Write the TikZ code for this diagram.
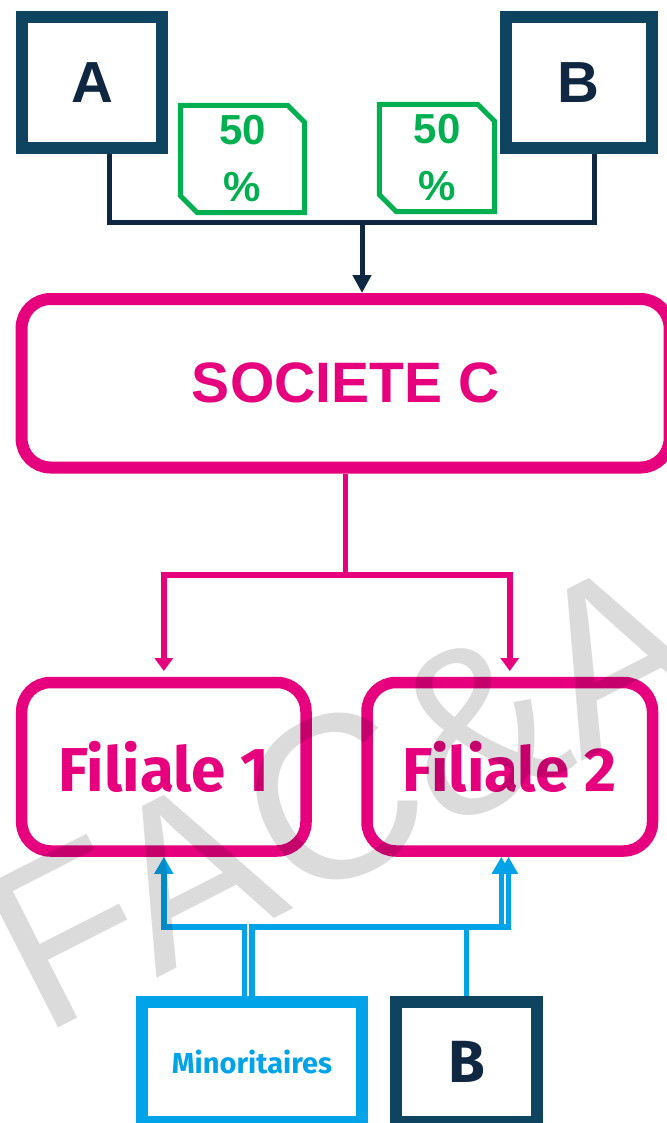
\documentclass[tikz,border=0pt]{standalone}
\usepackage{fontspec}
\setmainfont{Liberation Sans}
\newfontfamily\firasans{Fira Sans}
\usetikzlibrary{arrows.meta}
\definecolor{boxteal}{HTML}{0E4460}
\definecolor{linknavy}{HTML}{0F2741}
\definecolor{brandpink}{HTML}{E6007E}
\definecolor{tagreen}{HTML}{00B050}
\definecolor{skyblue}{HTML}{00A2E8}
\begin{document}
\begin{tikzpicture}[x=1pt,y=-1pt,
  ownerbox/.style={draw=boxteal, line width=12pt, fill=white, inner sep=0pt,
    text=linknavy, font=\fontsize{58}{58}\selectfont\bfseries},
  sharetag/.style={inner sep=0pt, align=center, text=tagreen,
    font=\fontsize{42}{57}\selectfont\bfseries},
  tagline/.style={draw=tagreen, line width=5pt},
  groupbox/.style={draw=brandpink, line width=12pt, rounded corners=29pt,
    fill=white, inner sep=0pt, text=brandpink},
  filbox/.style={groupbox, line width=11.5pt, minimum width=284.3pt, minimum height=168.5pt,
    font=\firasans\bfseries\fontsize{62}{62}\selectfont},
  ownerlink/.style={draw=linknavy, line width=5pt},
  grouplink/.style={draw=brandpink, line width=5.5pt,
    -{Triangle[width=18pt,length=13pt]}, shorten >=5.75pt},
  minlink/.style={draw=skyblue, line width=5.5pt,
    -{Triangle[width=18pt,length=17pt]}}
]
\useasboundingbox[fill=white] (0,0) rectangle (666,1123);

% shareholders
\node[ownerbox, minimum width=140pt, minimum height=131pt] (A) at (92,82.5) {A};
\node[ownerbox, minimum width=146.5pt, minimum height=131pt] (B) at (578.75,82.5) {B};

% share tags
\node[sharetag, minimum width=124pt, minimum height=107pt] (t1) at (242.5,159) {50\\\%};
\node[sharetag, minimum width=115pt, minimum height=107pt] (t2) at (437,158) {50\\\%};
\foreach \t in {t1,t2}{
  \draw[tagline] (\t.north west) -- ([xshift=-17pt]\t.north east)
    -- ([yshift=-17pt]\t.north east) -- (\t.south east)
    -- ([xshift=17pt]\t.south west) -- ([yshift=17pt]\t.south west) -- cycle;
}

% holding and subsidiaries
\node[groupbox, minimum width=648pt, minimum height=168.5pt,
  font=\fontsize{57}{57}\selectfont\bfseries] (C) at (345.6,383.25) {SOCIETE C};
\node[filbox] (F1) at (163.85,766.75) {Filiale 1};
\node[filbox, minimum width=285.5pt] (F2) at (509.75,766.75) {Filiale 2};

% minority holders
\node[draw=skyblue, line width=12pt, fill=white, inner sep=0pt,
  minimum width=220pt, minimum height=120pt, text=skyblue,
  font=\firasans\bfseries\fontsize{29}{29}\selectfont] (M) at (252,1062) {Minoritaires};
\node[ownerbox, minimum width=141pt, minimum height=120pt,
  font=\firasans\bfseries\fontsize{59.5}{60}\selectfont] (B2) at (466.5,1062) {B};

% ownership of C
\coordinate (J) at (362,223);
\draw[ownerlink] ([xshift=17pt]A.south) |- (J) -| ([xshift=16pt]B.south);
\draw[ownerlink, -{Triangle[width=18pt,length=18pt]}] (J) -- (J |- C.north);

% C to subsidiaries
\coordinate (Plevel) at (0,575);
\draw[grouplink] (C.south) -- (C.south |- Plevel) -| (F1.north);
\draw[grouplink] (C.south) -- (C.south |- Plevel) -| (F2.north);

% minority stakes
\coordinate (Hlevel) at (0,927);
\coordinate (m1) at ([xshift=-7.5pt]M.north);
\coordinate (m2) at (M.north);
\coordinate (b2) at (B2.north);
\draw[minlink] (m1) -- (m1 |- Hlevel) -| (F1.south);
\draw[minlink] (m2) -- (m2 |- Hlevel) -| ([xshift=-8.5pt]F2.south);
\draw[minlink] (b2) -- (b2 |- Hlevel) -| ([xshift=-1.25pt]F2.south);

% watermark
\node[rotate=27, anchor=base west, inner sep=0pt, text=black, text opacity=0.14,
  font=\fontsize{232}{232}\selectfont] (wm) at (41.7,1037) {FAC\&A};
\end{tikzpicture}
\end{document}
